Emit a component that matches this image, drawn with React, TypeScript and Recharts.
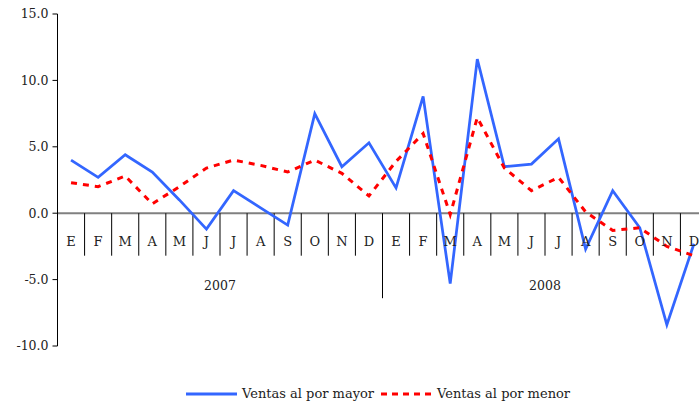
import { LineChart, Line, XAxis, YAxis, ReferenceLine, ReferenceDot } from 'recharts';

const months = ['E', 'F', 'M', 'A', 'M', 'J', 'J', 'A', 'S', 'O', 'N', 'D'];
const years = ['2007', '2008'];

// variación anual, %
const mayor = [4.0, 2.7, 4.4, 3.1, 1.0, -1.2, 1.7, 0.4, -0.9, 7.5, 3.5, 5.3, 1.9, 8.8, -5.3, 11.6, 3.5, 3.7, 5.6, -2.7, 1.7, -1.1, -8.4, -2.3];
const menor = [2.3, 2.0, 2.8, 0.7, 2.0, 3.4, 4.0, 3.6, 3.1, 4.0, 3.0, 1.3, 3.9, 6.0, -0.1, 7.2, 3.4, 1.7, 2.7, 0.1, -1.3, -1.1, -2.5, -3.2];
const yTicks = [-10, -5, 0, 5, 10, 15];

const FONT = '"DejaVu Serif", serif';
const BLUE = '#3366ff';
const RED = '#ff0000';
const TICK_END = -3.2;
const YEAR_SEP_END = -6.4;
const MONTH_LABEL_Y = -2.1;
const YEAR_LABEL_Y = -5.45;

const labels = years.flatMap(() => months);
const data = mayor.map((v, i) => ({ pos: i + 0.5, mayor: v, menor: menor[i] }));

export default function App() {
  return (
    <div style={{ position: 'absolute', left: 0, top: 0, width: 699, height: 406, overflow: 'hidden', background: '#fff' }}>
      <LineChart
        width={720}
        height={406}
        data={data}
        margin={{ top: 14, right: 12.5, left: 7.5, bottom: 60 }}
        style={{ fontFamily: FONT }}
      >
        <XAxis type="number" dataKey="pos" domain={[0, 24]} hide />
        <YAxis
          domain={[-10, 15]}
          ticks={yTicks}
          width={50}
          tickFormatter={(v: number) => v.toFixed(1)}
          axisLine={{ stroke: '#000' }}
          tickLine={{ stroke: '#000' }}
          tickSize={5}
          tickMargin={4}
          tick={{ fill: '#222', fontSize: 12.5 }}
        />
        <ReferenceLine y={0} stroke="#808080" strokeWidth={2} />
        {labels.map((_, i) =>
          i === 0 ? null : (
            <ReferenceLine
              key={'t' + i}
              segment={[{ x: i, y: 0 }, { x: i, y: i === 12 ? YEAR_SEP_END : TICK_END }]}
              stroke="#000"
              strokeWidth={1}
            />
          )
        )}
        {labels.map((m, i) => (
          <ReferenceDot
            key={'m' + i}
            x={i + 0.5}
            y={MONTH_LABEL_Y}
            r={0}
            fill="none"
            stroke="none"
            label={{ value: m, position: 'center', fill: '#222', fontSize: 13 }}
          />
        ))}
        {years.map((y, i) => (
          <ReferenceDot
            key={y}
            x={i * 12 + 6}
            y={YEAR_LABEL_Y}
            r={0}
            fill="none"
            stroke="none"
            label={{ value: y, position: 'center', fill: '#222', fontSize: 12.5 }}
          />
        ))}
        <Line
          dataKey="mayor"
          stroke={BLUE}
          strokeWidth={2.75}
          dot={false}
          isAnimationActive={false}
        />
        <Line
          dataKey="menor"
          stroke={RED}
          strokeWidth={3}
          strokeDasharray="6 6"
          dot={false}
          isAnimationActive={false}
        />
      </LineChart>
      <div
        style={{
          position: 'absolute',
          left: 186,
          top: 386,
          display: 'flex',
          alignItems: 'center',
          fontFamily: FONT,
          fontSize: 13,
          color: '#222',
          lineHeight: '16px',
          whiteSpace: 'nowrap',
        }}
      >
        <svg width={51} height={8}>
          <line x1={0} y1={4} x2={51} y2={4} stroke={BLUE} strokeWidth={3} />
        </svg>
        <span style={{ marginLeft: 5 }}>Ventas al por mayor</span>
        <svg width={51} height={8} style={{ marginLeft: 7 }}>
          <line x1={0} y1={4} x2={51} y2={4} stroke={RED} strokeWidth={3} strokeDasharray="6 5" />
        </svg>
        <span style={{ marginLeft: 5 }}>Ventas al por menor</span>
      </div>
    </div>
  );
}
